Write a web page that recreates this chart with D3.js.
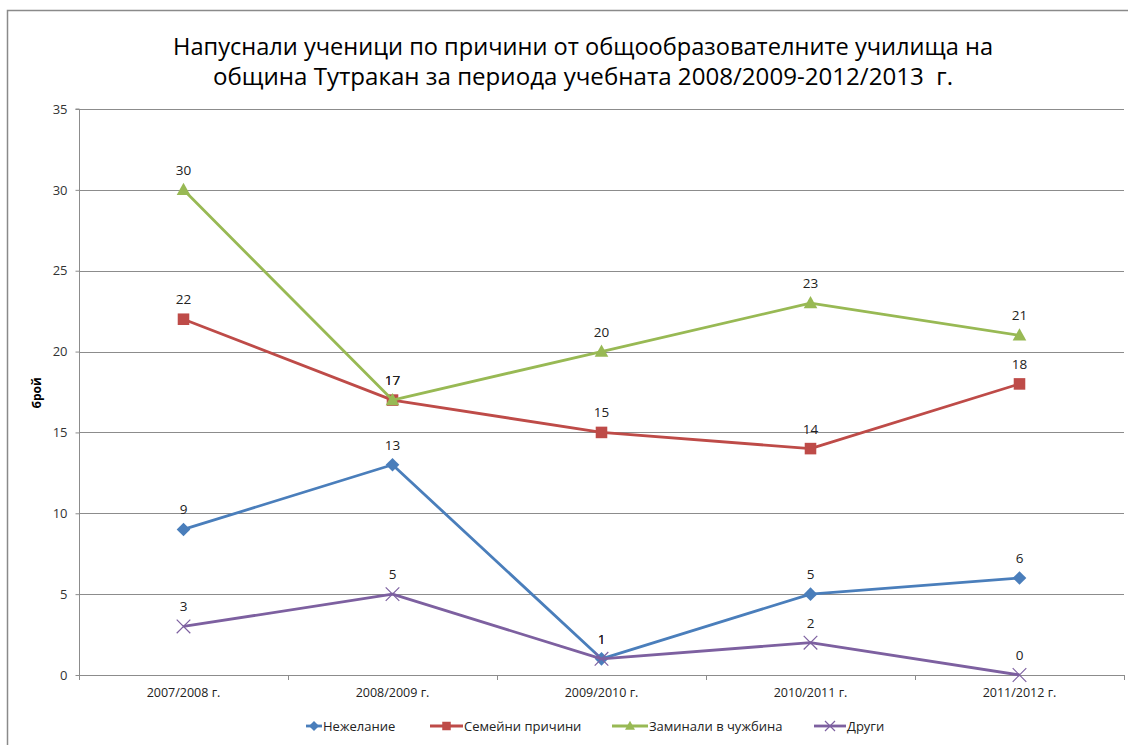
<!DOCTYPE html>
<html><head><meta charset="utf-8">
<script src="https://cdn.jsdelivr.net/npm/d3@7"></script>
<style>body{margin:0;background:#fff}svg{display:block}text{font-family:"Open Sans","Noto Sans",sans-serif}</style>
</head><body><svg id="c" width="1128" height="745"></svg>
<script>
const categories = ["2007/2008 г.", "2008/2009 г.", "2009/2010 г.", "2010/2011 г.", "2011/2012 г."];
const nezhelanie = [9, 13, 1, 5, 6];
const semeyni = [22, 17, 15, 14, 18];
const zaminali = [30, 17, 20, 23, 21];
const drugi = [3, 5, 1, 2, 0];
const yTicks = [0, 5, 10, 15, 20, 25, 30, 35];
const seriesNames = ["Нежелание", "Семейни причини", "Заминали в чужбина", "Други"];
const titleLines = ["Напуснали ученици по причини от общообразователните училища на", "община Тутракан за периода учебната 2008/2009-2012/2013  г."];
const yLabel = "брой";

const series = [
  {name: seriesNames[0], values: nezhelanie, color: "#4a7ebb", marker: "diamond"},
  {name: seriesNames[1], values: semeyni, color: "#be4b48", marker: "square"},
  {name: seriesNames[2], values: zaminali, color: "#98b954", marker: "triangle"},
  {name: seriesNames[3], values: drugi, color: "#7d60a0", marker: "x"}
];

const svg = d3.select("#c");
const L = 79, R = 1124, T = 109, B = 675;
const x = d3.scaleBand().domain(categories).range([L, R]);
const y = d3.scaleLinear().domain([0, 35]).range([B, T]);
const grid = "#8c8c8c";

// outer border
svg.append("rect").attr("x", 7.5).attr("y", 10.5).attr("width", 1130).attr("height", 745)
  .attr("fill", "none").attr("stroke", "#8a8a8a").attr("stroke-width", 1.5);

// title
titleLines.forEach((t, i) => {
  svg.append("text").attr("x", 583).attr("y", 55 + i * 30).attr("text-anchor", "middle")
    .attr("font-size", 24).attr("fill", "#000").attr("textLength", i === 0 ? 820 : 740)
    .attr("lengthAdjust", "spacingAndGlyphs").style("white-space", "pre").text(t);
});

// gridlines
svg.append("g").selectAll("line").data(yTicks.filter(d => d > 0)).join("line")
  .attr("x1", L).attr("x2", R).attr("y1", d => Math.round(y(d)) + 0.5).attr("y2", d => Math.round(y(d)) + 0.5)
  .attr("stroke", grid).attr("stroke-width", 1);

// y axis
const yAxis = svg.append("g").attr("transform", `translate(${L + 0.5},0)`)
  .call(d3.axisLeft(y).tickValues(yTicks).tickSize(4).tickPadding(8));
yAxis.select(".domain").attr("stroke", grid).attr("d", `M-4,${T}H0V${B}`);
yAxis.selectAll(".tick line").attr("stroke", grid);
yAxis.selectAll(".tick text").attr("font-size", 13).attr("fill", "#333").attr("font-family", "Open Sans");

// x axis
const xAxis = svg.append("g").attr("transform", `translate(0,${B + 0.5})`)
  .call(d3.axisBottom(x).tickSize(0).tickPadding(13));
xAxis.select(".domain").attr("stroke", grid).attr("d", `M${L},0H${R}`);
xAxis.selectAll(".tick text").attr("font-size", 12.5).attr("fill", "#222").attr("font-family", "Open Sans");
// category boundary ticks
const bounds = categories.map(c => x(c)).concat([R]);
svg.append("g").selectAll("line").data(bounds).join("line")
  .attr("x1", d => Math.round(d) + 0.5).attr("x2", d => Math.round(d) + 0.5)
  .attr("y1", B).attr("y2", B + 5).attr("stroke", grid);

// y label
svg.append("text").attr("transform", `translate(41,${(T + B) / 2 + 1}) rotate(-90)`)
  .attr("text-anchor", "middle").attr("font-size", 12).attr("font-weight", "bold").attr("fill", "#000").text(yLabel);

const cx = (i) => x(categories[i]) + x.bandwidth() / 2;

function drawMarker(g, type, color, px, py, s) {
  if (type === "diamond") {
    g.append("path").attr("d", `M${px},${py - s}L${px + s},${py}L${px},${py + s}L${px - s},${py}Z`).attr("fill", color);
  } else if (type === "square") {
    g.append("rect").attr("x", px - s * 0.85).attr("y", py - s * 0.85).attr("width", s * 1.7).attr("height", s * 1.7).attr("fill", color);
  } else if (type === "triangle") {
    g.append("path").attr("d", `M${px},${py - s * 1.05}L${px + s},${py + s * 0.75}L${px - s},${py + s * 0.75}Z`).attr("fill", color);
  } else {
    g.append("path").attr("d", `M${px - s},${py - s}L${px + s},${py + s}M${px + s},${py - s}L${px - s},${py + s}`)
      .attr("stroke", color).attr("stroke-width", 1.2).attr("fill", "none");
  }
}

const line = d3.line().x((d, i) => cx(i)).y(d => y(d));
series.forEach(s => {
  const g = svg.append("g");
  g.append("path").datum(s.values).attr("d", line).attr("fill", "none")
    .attr("stroke", s.color).attr("stroke-width", 2.8).attr("stroke-linejoin", "round");
  s.values.forEach((v, i) => drawMarker(g, s.marker, s.color, cx(i), y(v), 6.8));
});
// data labels
series.forEach(s => {
  svg.append("g").selectAll("text").data(s.values).join("text")
    .attr("x", (d, i) => cx(i)).attr("y", d => y(d) - 15).attr("text-anchor", "middle")
    .attr("font-size", 13.5).attr("fill", "#222").text(d => d);
});

// legend
const legendX = [306, 430, 612, 814];
const legendW = [16, 33, 36, 32];
const ly = 726;
series.forEach((s, k) => {
  const g = svg.append("g");
  const x0 = legendX[k], x1 = legendX[k] + legendW[k];
  const x0b = k === 0 ? x1 - 16 : x0;
  g.append("line").attr("x1", x0b).attr("x2", x1).attr("y1", ly).attr("y2", ly).attr("stroke", s.color).attr("stroke-width", 2.8);
  drawMarker(g, s.marker, s.color, (x0b + x1) / 2, ly, 5);
  g.append("text").attr("x", x1 + 1).attr("y", ly + 4.5).attr("font-size", 13).attr("fill", "#222").text(s.name);
});
</script></body></html>
